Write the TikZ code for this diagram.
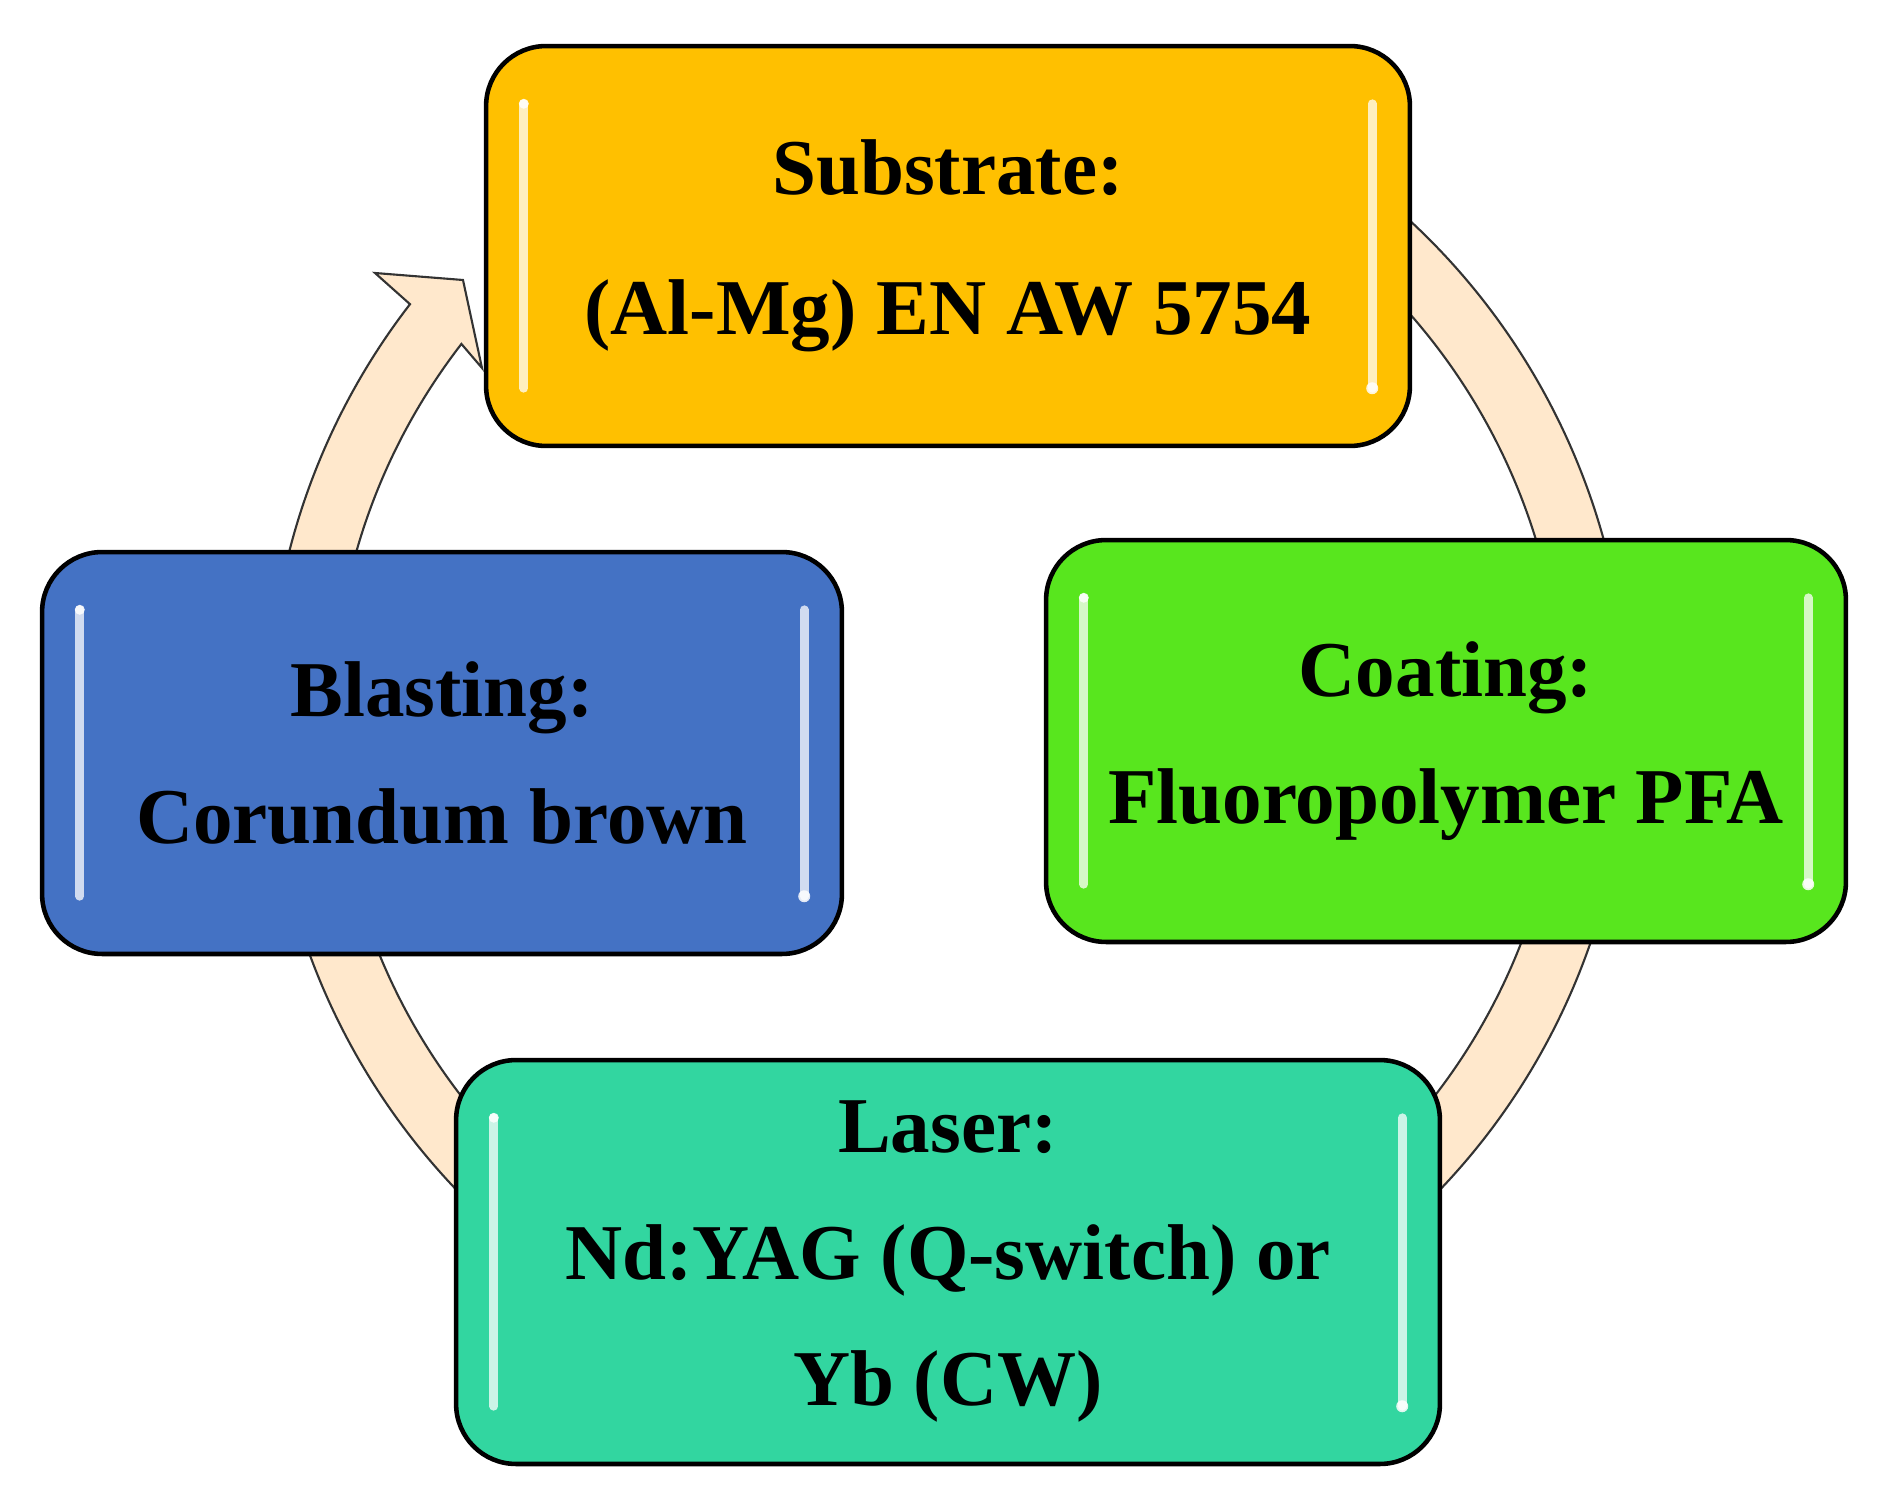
\documentclass[tikz,border=0pt]{standalone}
\usepackage{fontspec}
\setmainfont{Liberation Serif}
\usetikzlibrary{calc}
\definecolor{ringfill}{HTML}{FFE8CC}
\definecolor{cSub}{HTML}{FFC000}
\definecolor{cBla}{HTML}{4472C4}
\definecolor{cCoa}{HTML}{58E61E}
\definecolor{cLas}{HTML}{32D6A0}
\begin{document}
\begin{tikzpicture}[x=0.02cm,y=-0.02cm,
  box/.style={draw=black,line width=2.6pt,rounded corners=1.2cm,inner sep=0pt,
    font=\bfseries\fontsize{45}{#1}\selectfont,align=center},
  hl/.style={line width=5pt,white,opacity=0.75,line cap=round},
  ring/.style={fill=ringfill,draw=black!80,line width=1.2pt,line join=miter}]
\useasboundingbox (0,0) rectangle (1879,1507);
\coordinate (c) at (948,720);
% ring with arrowhead
\path[ring] ($(c)+(-70:680)$) arc[start angle=-70,end angle=217.7,radius=680]
  coordinate (on)
  -- (375,273) coordinate (of) -- (463,280) coordinate (tip) -- (482,368) coordinate (inf)
  -- ($(c)+(217.7:615)$) arc[start angle=217.7,end angle=-70,radius=615] -- cycle;
% boxes
\node[box=80pt,fill=cSub,minimum width=18.48cm,minimum height=8cm] (sub) at (948,246)
  {Substrate:\\(Al-Mg) EN AW 5754};
\node[box=72pt,fill=cBla,minimum width=16cm,minimum height=8.04cm] (bla) at (442,753)
  {Blasting:\\Corundum brown};
\node[box=72pt,fill=cCoa,minimum width=16cm,minimum height=8.04cm] (coa) at (1446,741)
  {Coating:\\Fluoropolymer PFA};
\node[box=72pt,fill=cLas,minimum width=19.68cm,minimum height=8.08cm] (las) at (948,1262)
  {Laser:\\Nd:YAG (Q-switch) or\\Yb (CW)};
% highlights
\foreach \n in {sub,bla,coa,las}{
  \draw[hl] ($(\n.north west)+(40,60)$) -- ($(\n.south west)+(40,-60)$);
  \draw[hl] ($(\n.north east)+(-40,60)$) -- ($(\n.south east)+(-40,-60)$);
  \fill[white,opacity=0.85] ($(\n.north west)+(40,60)$) circle (5);
  \fill[white,opacity=0.85] ($(\n.south east)+(-40,-60)$) circle (6);
}
\end{tikzpicture}
\end{document}
